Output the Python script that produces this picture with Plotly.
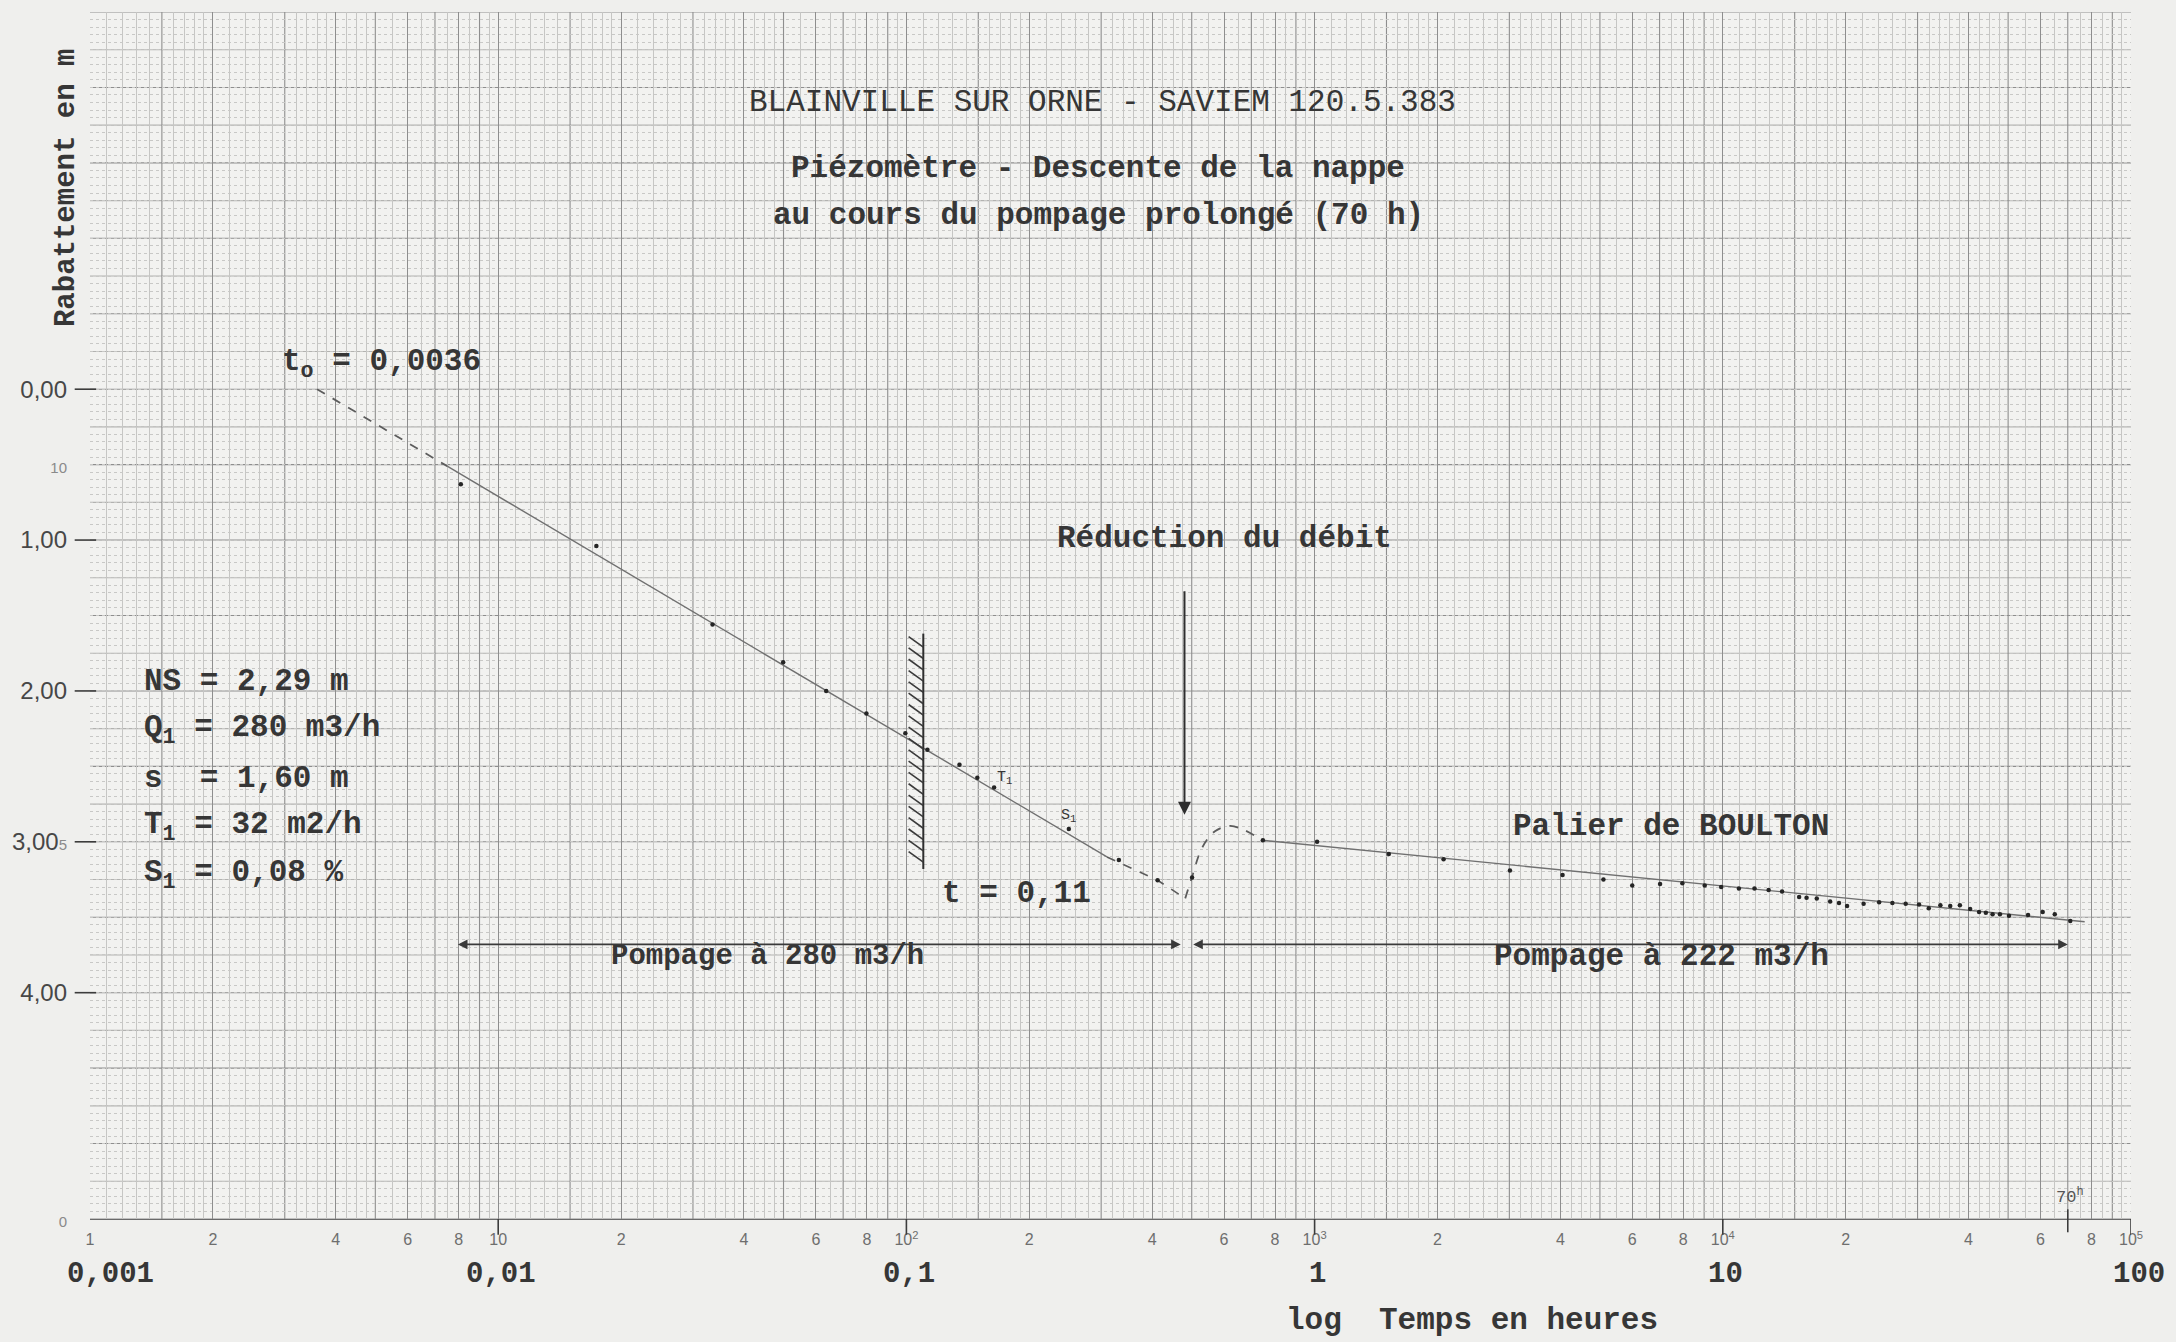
import numpy as np
import plotly.graph_objects as go

# ---------------- data ----------------
# Jacob straight line of the first pumping stage (280 m3/h)
t0 = 0.0036
jacob_t = [0.0036, 0.0075, 0.31]
jacob_s = [0.0, 0.51, 3.10]

# observed drawdowns, first stage
obs1_t = [0.0081, 0.0174, 0.0335, 0.0499, 0.0636, 0.0798, 0.0994, 0.1126,
          0.1349, 0.1492, 0.164, 0.250, 0.3315, 0.4125]
obs1_s = [0.63, 1.04, 1.56, 1.81, 2.00, 2.15, 2.28, 2.39,
          2.49, 2.575, 2.64, 2.915, 3.12, 3.255]

# dashed continuation down to the flow reduction
trans_t = [0.31, 0.4125, 0.482]
trans_s = [3.10, 3.255, 3.375]

# dashed recovery hump after the flow reduction
rec_t = [0.482, 0.50, 0.53, 0.57, 0.62, 0.67, 0.745]
rec_s = [3.375, 3.24, 3.04, 2.93, 2.895, 2.92, 2.99]
rec_obs_t = [0.501]
rec_obs_s = [3.237]

# Boulton plateau line (222 m3/h)
bou_t = [0.745, 77.0]
bou_s = [2.99, 3.53]

obs2_t = [0.747, 1.014, 1.52, 2.07, 3.01, 4.05, 5.10, 6.00, 7.02, 7.96, 9.03,
          9.91, 10.95, 11.96, 12.95, 13.97, 15.38, 16.04, 16.99, 18.32, 19.26,
          20.16, 22.13, 24.15, 26.03, 28.06, 30.25, 31.96, 34.12, 36.07, 38.09,
          40.36, 42.44, 44.1, 45.8, 47.75, 50.25, 55.95, 60.77, 65.05, 71.0]
obs2_s = [2.99, 3.00, 3.08, 3.115, 3.19, 3.22, 3.25, 3.29, 3.28, 3.275, 3.29,
          3.30, 3.31, 3.31, 3.32, 3.33, 3.365, 3.37, 3.375, 3.395, 3.405,
          3.425, 3.41, 3.40, 3.405, 3.41, 3.415, 3.44, 3.42, 3.425, 3.42,
          3.445, 3.465, 3.47, 3.48, 3.48, 3.49, 3.485, 3.465, 3.48, 3.525]

t_reduction = 0.48
t_hatch = 0.11
t_end = 70

# axis labels
decades = [0.001, 0.01, 0.1, 1, 10]
paper_dec_labels = ['1', '10', '10<sup>2</sup>', '10<sup>3</sup>', '10<sup>4</sup>']
paper_sub_labels = [2, 4, 6, 8]
hour_vals = [0.001, 0.01, 0.1, 1, 10, 100]
hour_labels = ['0,001', '0,01', '0,1', '1', '10', '100']
y_label_vals = [0, 1, 2, 3, 4]
y_label_text = ['0,00', '1,00', '2,00', '3,00', '4,00']

# ---------------- styling ----------------
MONO = 'Liberation Mono'
SANS = 'Liberation Sans'
INK = '#363636'
LINE = '#5c5c5c'
FS = 31
GRID_DARK = '#8e8e8e'

fig = go.Figure()

fig.add_trace(go.Scatter(x=jacob_t[:2], y=jacob_s[:2], mode='lines',
                         line=dict(color=LINE, width=1.8, dash='dash')))
fig.add_trace(go.Scatter(x=jacob_t[1:], y=jacob_s[1:], mode='lines',
                         line=dict(color='#707070', width=1.4)))
fig.add_trace(go.Scatter(x=trans_t, y=trans_s, mode='lines',
                         line=dict(color=LINE, width=1.6, dash='dash')))
fig.add_trace(go.Scatter(x=rec_t, y=rec_s, mode='lines',
                         line=dict(color=LINE, width=1.8, dash='dash', shape='spline')))
fig.add_trace(go.Scatter(x=bou_t, y=bou_s, mode='lines',
                         line=dict(color='#707070', width=1.4)))
fig.add_trace(go.Scatter(x=obs1_t + rec_obs_t + obs2_t, y=obs1_s + rec_obs_s + obs2_s,
                         mode='markers', marker=dict(color='#252525', size=4.5)))

# ---------------- axes / graph paper ----------------
xt_vals, xt_text = [], []
for d, lab in zip(decades, paper_dec_labels):
    xt_vals.append(d)
    xt_text.append(lab)
    for k in paper_sub_labels:
        xt_vals.append(d * k)
        xt_text.append(str(k))
xt_vals.append(100)
xt_text.append('10<sup>5</sup>')

mant = [1.1, 1.2, 1.3, 1.4, 1.6, 1.7, 1.8, 1.9, 2.2, 2.4, 2.6, 2.8, 3.2, 3.4,
        3.6, 3.8, 4.25, 4.5, 4.75, 5.5, 6.5, 7.5, 8.5, 9.5]
x_minor = [d * m for d in decades for m in mant]
x_dark_extra = [d * m for d in decades for m in (1.5, 3, 5, 7, 9)]

small = "<span style='font-size:15px;color:#8a8a8a'>{}</span>"
yt_vals = [0, 0.5, 1, 2, 3, 4, 5.5]
yt_text = [y_label_text[0], small.format('10'), y_label_text[1], y_label_text[2],
           y_label_text[3] + small.format('5'), y_label_text[4], small.format('0')]

fig.update_xaxes(type='log', range=[-3, 2], tickmode='array', tickvals=xt_vals,
                 ticktext=xt_text, tickfont=dict(family=SANS, size=16, color='#6e6e6e'),
                 showgrid=True, gridcolor=GRID_DARK, gridwidth=1.1, zeroline=False,
                 showline=True, linecolor='#6a6a6a', linewidth=1.2, ticks='',
                 minor=dict(tickmode='array', tickvals=x_minor, showgrid=True,
                            gridcolor='#c6c6c4', gridwidth=1),
                 ticklabelstandoff=6)
fig.update_yaxes(range=[5.5, -2.5], tickmode='array', tickvals=yt_vals, ticktext=yt_text,
                 tickfont=dict(family=SANS, size=24, color='#474747'),
                 showgrid=False, zeroline=False,
                 showline=False, ticks='', ticklabelstandoff=22,
                 minor=dict(dtick=0.05, showgrid=True, gridcolor='#c8c8c6', gridwidth=1,
                            griddash='dot'))

shapes = []
# graph-paper rulings: quarter-metre (medium) and half-metre (heavy) lines
for k in range(-10, 23):
    shapes.append(dict(type='line', xref='paper', yref='y', x0=0, x1=1, y0=k / 4, y1=k / 4,
                       layer='between',
                       line=dict(color=GRID_DARK if k % 2 == 0 else '#b2b2b0', width=1.1)))
# remaining heavy verticals of the log paper (3, 5, 7, 9 and 1.5 of each cycle)
for xv in x_dark_extra:
    shapes.append(dict(type='line', xref='x', yref='paper', x0=xv, x1=xv, y0=0, y1=1,
                       layer='between', line=dict(color=GRID_DARK, width=1.1)))
# y tick dashes
for v in y_label_vals:
    shapes.append(dict(type='line', xref='paper', yref='y', x0=-0.0075, x1=0.003,
                       y0=v, y1=v, line=dict(color='#3c3c3c', width=1.6)))
# decade tick marks and the 70 h mark below the time axis
for d in decades[1:] + [100]:
    shapes.append(dict(type='line', xref='x', yref='paper', x0=d, x1=d, y0=-0.013, y1=0,
                       line=dict(color='#3c3c3c', width=1.6)))
shapes.append(dict(type='line', xref='x', yref='paper', x0=t_end, x1=t_end, y0=-0.011, y1=0.008,
                   line=dict(color='#3c3c3c', width=1.6)))
# hatched boundary at t = 0,11
shapes.append(dict(type='line', xref='x', yref='y', x0=t_hatch, x1=t_hatch, y0=1.62, y1=3.18,
                   line=dict(color='#2e2e2e', width=2)))
hatch_left = t_hatch * 10 ** (-0.036)
for sv in np.arange(1.64, 3.12, 0.075):
    shapes.append(dict(type='line', xref='x', yref='y', x0=hatch_left, x1=t_hatch,
                       y0=float(sv), y1=float(sv) + 0.07,
                       line=dict(color='#3a3a3a', width=1.6)))
fig.update_layout(shapes=shapes)

# ---------------- annotations ----------------
def tw(text, t, s, size=FS, anchor='center', bold=True, color=INK, xref='x', yref='y'):
    x = np.log10(t) if xref == 'x' else t
    txt = '<b>' + text + '</b>' if bold else text
    fig.add_annotation(x=x, y=s, xref=xref, yref=yref, text=txt, showarrow=False,
                       xanchor=anchor, yanchor='middle',
                       font=dict(family=MONO, size=size, color=color))

nb = '\u00a0'
tw('BLAINVILLE SUR ORNE - SAVIEM 120.5.383', 0.496, -1.90, bold=False, xref='paper')
tw('Piézomètre - Descente de la nappe', 0.494, -1.46, xref='paper')
tw('au cours du pompage prolongé (70 h)', 0.494, -1.15, xref='paper')

tw('t<sub>o</sub> = 0,0036', 0.00292, -0.17, anchor='left')
params = ['NS = 2,29 m', 'Q<sub>1</sub> = 280 m3/h', 's' + nb + nb + '= 1,60 m',
          'T<sub>1</sub> = 32 m2/h', 'S<sub>1</sub> = 0,08 %']
for i, p in enumerate(params):
    tw(p, 0.00134, 1.94 + 0.32 * i, anchor='left')

tw('Réduction du débit', 0.60, 0.99)
tw('t = 0,11', 0.186, 3.34)
tw('Palier de BOULTON', 7.45, 2.90)
tw('Pompage à 280 m3/h', 0.0458, 3.76, size=29)
tw('Pompage à 222 m3/h', 7.06, 3.76)
tw('T<sub>1</sub>', 0.174, 2.58, size=15, bold=False)
tw('S<sub>1</sub>', 0.25, 2.83, size=15, bold=False)
tw('70<sup>h</sup>', 71, 5.35, size=17, bold=False, color='#555')

# hour labels under the paper scale
for v, lab in zip(hour_vals, hour_labels):
    fig.add_annotation(x=np.log10(v), y=-0.046, xref='x', yref='paper', text='<b>' + lab + '</b>',
                       showarrow=False, xanchor='center', yanchor='middle',
                       xshift=20 if v == hour_vals[0] else (8 if v == hour_vals[-1] else 3),
                       font=dict(family=MONO, size=29, color=INK))
# axis titles
fig.add_annotation(x=0.677, y=-0.0845, xref='paper', yref='paper', xanchor='center',
                   yanchor='middle', text='<b>log' + nb + nb + 'Temps en heures</b>',
                   showarrow=False, font=dict(family=MONO, size=FS, color=INK))
fig.add_annotation(x=-0.0115, y=-1.33, xref='paper', yref='y', xanchor='center',
                   yanchor='middle', text='<b>Rabattement en m</b>',
                   textangle=-90, showarrow=False,
                   font=dict(family=MONO, size=29, color=INK))

# arrows
fig.add_annotation(x=np.log10(t_reduction), y=2.82, ax=np.log10(t_reduction), ay=1.33,
                   xref='x', yref='y', axref='x', ayref='y', text='', showarrow=True,
                   arrowhead=2, arrowsize=1.3, arrowwidth=2, arrowcolor='#2e2e2e')
fig.add_annotation(x=np.log10(0.47), y=3.68, ax=np.log10(0.0079), ay=3.68,
                   xref='x', yref='y', axref='x', ayref='y', text='', showarrow=True,
                   arrowside='end+start', arrowhead=2, startarrowhead=2, arrowsize=1.2,
                   startarrowsize=1.2, arrowwidth=1.6, arrowcolor='#3a3a3a')
fig.add_annotation(x=np.log10(t_end), y=3.68, ax=np.log10(0.50), ay=3.68,
                   xref='x', yref='y', axref='x', ayref='y', text='', showarrow=True,
                   arrowside='end+start', arrowhead=2, startarrowhead=2, arrowsize=1.2,
                   startarrowsize=1.2, arrowwidth=1.6, arrowcolor='#3a3a3a')

fig.update_layout(width=2176, height=1342, showlegend=False,
                  margin=dict(l=88, r=45, t=12, b=123),
                  paper_bgcolor='#efefed', plot_bgcolor='#f2f2f0',
                  font=dict(family=MONO, color=INK))

fig.write_html('out.html', config={'displayModeBar': False},
               post_script="document.body.style.margin='0';document.body.style.overflow='hidden';")
